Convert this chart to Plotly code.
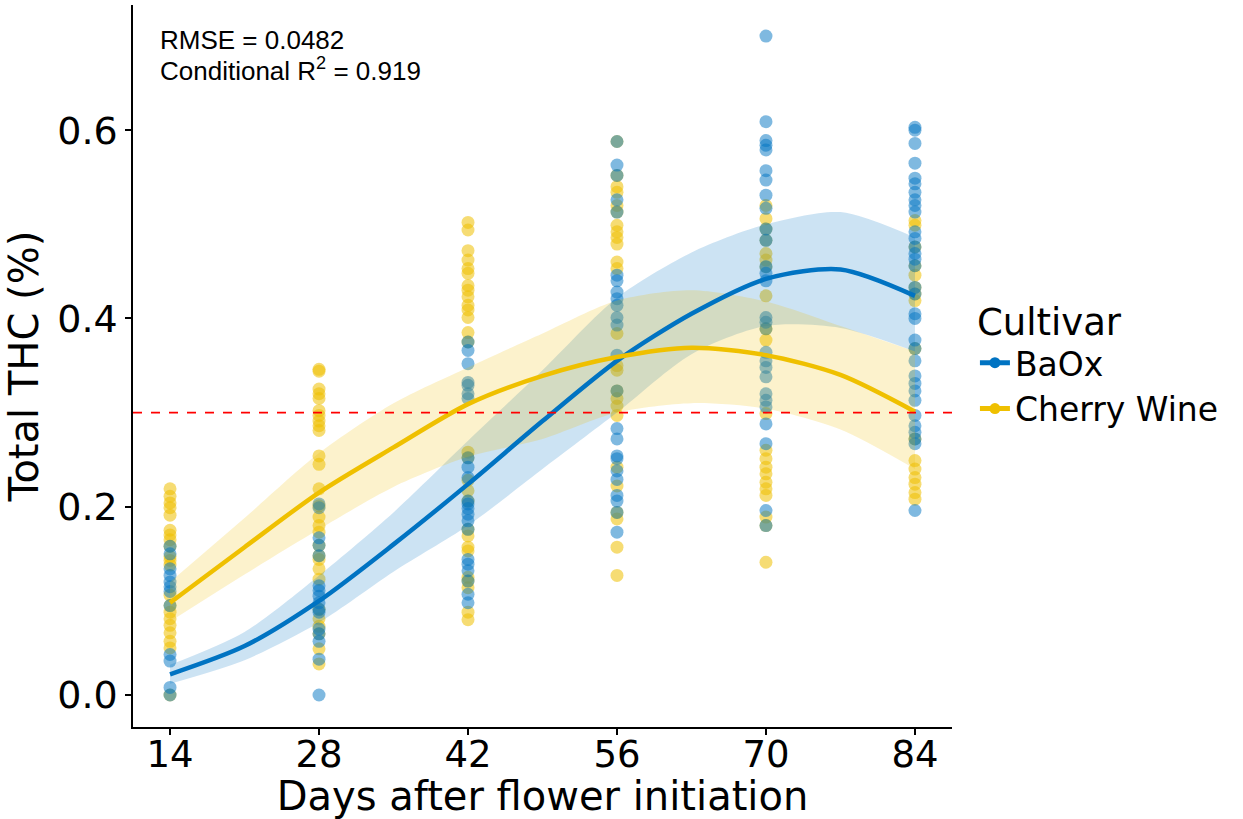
import plotly.graph_objects as go

# ---------------- data ----------------
DAYS = [14, 28, 42, 56, 70, 84]

BAOX_D14 = [0.158, 0.150, 0.134, 0.127, 0.120, 0.115, 0.110, 0.095, 0.043, 0.036, 0.008, 0.0]
BAOX_D28 = [0.203, 0.199, 0.167, 0.159, 0.148, 0.116, 0.111, 0.105, 0.098, 0.091, 0.088, 0.070,
            0.065, 0.057, 0.038, 0.0]
BAOX_D42 = [0.375, 0.366, 0.352, 0.332, 0.329, 0.320, 0.315, 0.252, 0.242, 0.231, 0.206, 0.203,
            0.198, 0.192, 0.185, 0.176, 0.144, 0.139, 0.132, 0.121, 0.107, 0.098]
BAOX_D56 = [0.588, 0.563, 0.552, 0.526, 0.513, 0.446, 0.440, 0.428, 0.421, 0.414, 0.401, 0.393,
            0.361, 0.323, 0.283, 0.272, 0.254, 0.251, 0.238, 0.229, 0.212, 0.206, 0.194, 0.173]
BAOX_D70 = [0.700, 0.609, 0.589, 0.584, 0.579, 0.557, 0.547, 0.531, 0.517, 0.495, 0.483, 0.455,
            0.448, 0.440, 0.401, 0.396, 0.389, 0.364, 0.355, 0.348, 0.338, 0.320, 0.313, 0.306,
            0.288, 0.267, 0.196, 0.180]
BAOX_D84 = [0.603, 0.600, 0.586, 0.565, 0.549, 0.543, 0.534, 0.526, 0.520, 0.513, 0.492, 0.485,
            0.476, 0.469, 0.463, 0.456, 0.433, 0.426, 0.405, 0.400, 0.377, 0.368, 0.355, 0.339,
            0.331, 0.323, 0.313, 0.297, 0.286, 0.279, 0.272, 0.267, 0.196]

CW_D14 = [0.219, 0.211, 0.204, 0.199, 0.191, 0.175, 0.170, 0.165, 0.158, 0.147, 0.143, 0.138,
          0.106, 0.095, 0.088, 0.081, 0.074, 0.066, 0.057, 0.050, 0.0]
CW_D28 = [0.346, 0.344, 0.325, 0.320, 0.315, 0.302, 0.297, 0.291, 0.286, 0.281, 0.254, 0.245,
          0.219, 0.201, 0.189, 0.180, 0.173, 0.159, 0.148, 0.144, 0.134, 0.123, 0.091, 0.081,
          0.073, 0.065, 0.049, 0.033]
CW_D42 = [0.502, 0.494, 0.472, 0.462, 0.453, 0.448, 0.435, 0.430, 0.423, 0.414, 0.409, 0.401,
          0.385, 0.375, 0.258, 0.252, 0.228, 0.217, 0.206, 0.176, 0.169, 0.157, 0.153, 0.125,
          0.121, 0.114, 0.088, 0.080]
CW_D56 = [0.588, 0.552, 0.540, 0.534, 0.520, 0.513, 0.499, 0.492, 0.486, 0.479, 0.460, 0.453,
          0.384, 0.350, 0.345, 0.323, 0.315, 0.307, 0.297, 0.242, 0.222, 0.194, 0.187, 0.157,
          0.127]
CW_D70 = [0.520, 0.506, 0.495, 0.483, 0.469, 0.462, 0.455, 0.424, 0.389, 0.377, 0.299, 0.260,
          0.251, 0.242, 0.235, 0.226, 0.219, 0.212, 0.189, 0.180, 0.141]
CW_D84 = [0.504, 0.499, 0.476, 0.456, 0.446, 0.433, 0.426, 0.419, 0.368, 0.272, 0.249, 0.240,
          0.231, 0.224, 0.215, 0.208]

FIT_DAYS = [14, 21, 28, 35, 42, 49, 56, 63, 70, 77, 84]
BAOX_FIT = [0.022, 0.052, 0.100, 0.160, 0.224, 0.291, 0.355, 0.405, 0.442, 0.452, 0.424]
BAOX_LO = [0.012, 0.037, 0.077, 0.131, 0.180, 0.240, 0.300, 0.362, 0.392, 0.390, 0.365]
BAOX_HI = [0.032, 0.067, 0.127, 0.194, 0.270, 0.345, 0.422, 0.470, 0.500, 0.513, 0.486]
CW_FIT = [0.098, 0.157, 0.215, 0.263, 0.309, 0.339, 0.359, 0.369, 0.361, 0.340, 0.301]
CW_LO = [0.078, 0.128, 0.176, 0.221, 0.253, 0.272, 0.300, 0.310, 0.304, 0.282, 0.240]
CW_HI = [0.120, 0.188, 0.257, 0.310, 0.348, 0.384, 0.419, 0.430, 0.418, 0.392, 0.365]

THRESHOLD = 0.3
RMSE_TEXT = "RMSE = 0.0482"
R2_TEXT = "Conditional R<sup>2</sup> = 0.919"

BLUE = "#0073C2"
YELLOW = "#EFC000"
BLUE_PT = "rgba(0,115,194,0.5)"
YELLOW_PT = "rgba(239,192,0,0.55)"
BLUE_BAND = "rgba(0,115,194,0.2)"
YELLOW_BAND = "rgba(239,192,0,0.2)"

FONT = "DejaVu Sans"

fig = go.Figure()


def pts(groups):
    xs, ys = [], []
    for d, vals in zip(DAYS, groups):
        xs += [d] * len(vals)
        ys += vals
    return xs, ys


bx, by = pts([BAOX_D14, BAOX_D28, BAOX_D42, BAOX_D56, BAOX_D70, BAOX_D84])
cx, cy = pts([CW_D14, CW_D28, CW_D42, CW_D56, CW_D70, CW_D84])

fig.add_trace(go.Scatter(x=cx, y=cy, mode="markers", showlegend=False,
                         marker=dict(size=13, color=YELLOW_PT, line=dict(width=0))))
fig.add_trace(go.Scatter(x=bx, y=by, mode="markers", showlegend=False,
                         marker=dict(size=13, color=BLUE_PT, line=dict(width=0))))

# ribbons
for lo, hi, col in [(BAOX_LO, BAOX_HI, BLUE_BAND), (CW_LO, CW_HI, YELLOW_BAND)]:
    fig.add_trace(go.Scatter(x=FIT_DAYS, y=lo, mode="lines",
                             line=dict(width=0, shape="spline", smoothing=0.8),
                             showlegend=False, hoverinfo="skip"))
    fig.add_trace(go.Scatter(x=FIT_DAYS, y=hi, mode="lines",
                             line=dict(width=0, shape="spline", smoothing=0.8),
                             fill="tonexty", fillcolor=col, showlegend=False, hoverinfo="skip"))

# fitted lines
fig.add_trace(go.Scatter(x=FIT_DAYS, y=BAOX_FIT, mode="lines", showlegend=False,
                         line=dict(color=BLUE, width=4.5, shape="spline", smoothing=0.8)))
fig.add_trace(go.Scatter(x=FIT_DAYS, y=CW_FIT, mode="lines", showlegend=False,
                         line=dict(color=YELLOW, width=4.5, shape="spline", smoothing=0.8)))

# legend entries
for name, col in [("BaOx", BLUE), ("Cherry Wine", YELLOW)]:
    fig.add_trace(go.Scatter(x=[None], y=[None], mode="lines+markers", name=name,
                             line=dict(color=col, width=5),
                             marker=dict(color=col, size=11)))

fig.add_hline(y=THRESHOLD, line=dict(color="red", width=1.6, dash="dash"))

fig.add_annotation(x=0.031, y=0.9515, xref="paper", yref="paper", xanchor="left", yanchor="middle",
                   text=RMSE_TEXT, showarrow=False,
                   font=dict(family="Liberation Sans, Arial", size=26, color="black"))
fig.add_annotation(x=0.031, y=0.91, xref="paper", yref="paper", xanchor="left", yanchor="middle",
                   text=R2_TEXT, showarrow=False,
                   font=dict(family="Liberation Sans, Arial", size=26, color="black"))

fig.update_layout(
    width=1243, height=819,
    margin=dict(l=133, r=291, t=5, b=92),
    plot_bgcolor="white", paper_bgcolor="white",
    font=dict(family=FONT, color="black"),
    xaxis=dict(
        range=[10.52, 87.48], tickvals=DAYS, ticks="outside", ticklen=6, tickwidth=1.5,
        tickcolor="black", showline=True, linecolor="black", linewidth=1.5,
        showgrid=False, zeroline=False, ticklabelstandoff=-12,
        tickfont=dict(size=37, color="black", family=FONT),
        title=dict(text="Days after flower initiation", font=dict(size=40, family=FONT), standoff=2),
    ),
    yaxis=dict(
        range=[-0.034, 0.733], tickvals=[0, 0.2, 0.4, 0.6], tickformat=".1f", ticks="outside",
        ticklen=6, tickwidth=1.5, tickcolor="black", showline=True, linecolor="black",
        linewidth=1.5, showgrid=False, zeroline=False,
        tickfont=dict(size=38, color="black", family=FONT),
        title=dict(text="Total THC (%)", font=dict(size=40, family=FONT), standoff=6),
    ),
    legend=dict(
        x=1.028, y=0.61, xanchor="left", yanchor="top", traceorder="normal",
        title=dict(text="Cultivar", font=dict(size=37, family=FONT)),
        font=dict(size=33, family=FONT), tracegroupgap=0, itemwidth=30,
        bgcolor="rgba(0,0,0,0)",
    ),
)

fig.write_html("out.html")
